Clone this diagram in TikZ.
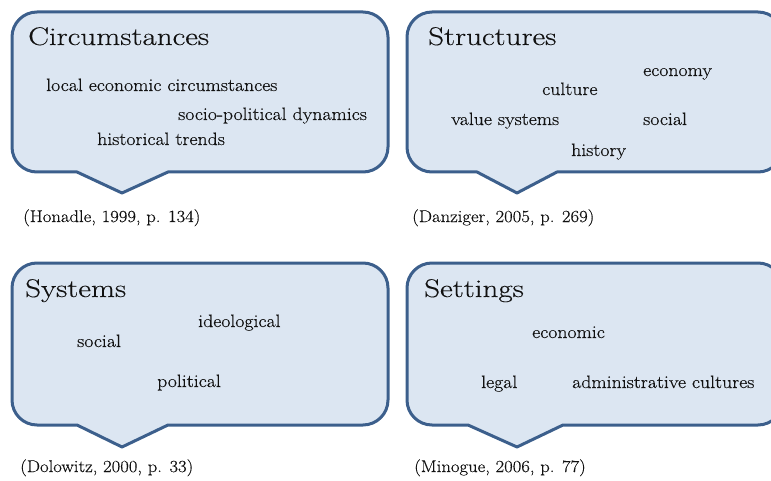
\documentclass[tikz,border=0pt]{standalone}
\usepackage{fontspec}
\setmainfont{Latin Modern Roman}[FakeStretch=1.1,FakeBold=0.35]
\newfontfamily\ttlfont{Latin Modern Roman}[FakeStretch=1.22,FakeBold=0.3]
\usepackage{xcolor}
\definecolor{boxfill}{HTML}{DCE6F2}
\definecolor{boxline}{HTML}{3C5F8C}
\definecolor{txtcol}{HTML}{111111}
\begin{document}
\begin{tikzpicture}[x=1pt,y=1pt,
  bubble/.style={fill=boxfill,draw=boxline,line width=3pt,line join=round},
  ttl/.style={anchor=base west,inner sep=0pt,text=txtcol,font=\ttlfont\fontsize{25.5}{30}\selectfont},
  itm/.style={anchor=base west,inner sep=0pt,text=txtcol,font=\fontsize{18}{22}\selectfont},
  cite/.style={anchor=base west,inner sep=0pt,text=txtcol,font=\fontsize{17}{20}\selectfont}]
\useasboundingbox (0,0) rectangle (771,480);
% box 1
\draw[bubble] (77,308) -- (37,308) arc[start angle=270,end angle=180,radius=25]
  -- (12,443) arc[start angle=180,end angle=90,radius=25]
  -- (363,468) arc[start angle=90,end angle=0,radius=25]
  -- (388,333) arc[start angle=0,end angle=-90,radius=25]
  -- (168,308) -- (122,287) -- cycle;
% box 2
\draw[bubble] (477,308) -- (432,308) arc[start angle=270,end angle=180,radius=25]
  -- (407,443) arc[start angle=180,end angle=90,radius=25]
  -- (758,468) arc[start angle=90,end angle=0,radius=25]
  -- (783,333) arc[start angle=0,end angle=-90,radius=25]
  -- (557,308) -- (517,287) -- cycle;
% box 3
\draw[bubble] (77,55) -- (37,55) arc[start angle=270,end angle=180,radius=25]
  -- (12,192) arc[start angle=180,end angle=90,radius=25]
  -- (363,217) arc[start angle=90,end angle=0,radius=25]
  -- (388,80) arc[start angle=0,end angle=-90,radius=25]
  -- (168,55) -- (122,33) -- cycle;
% box 4
\draw[bubble] (468,55) -- (432,55) arc[start angle=270,end angle=180,radius=25]
  -- (407,192) arc[start angle=180,end angle=90,radius=25]
  -- (758,217) arc[start angle=90,end angle=0,radius=25]
  -- (783,80) arc[start angle=0,end angle=-90,radius=25]
  -- (563,55) -- (517,33) -- cycle;
% texts box 1
\node[ttl] (t1) at (28,435) {Circumstances};
\node[itm] (a1) at (46,389) {local economic circumstances};
\node[itm] (a2) at (178,360) {socio-political dynamics};
\node[itm] (a3) at (97,335) {historical trends};
\node[cite] (c1) at (23,258) {(Honadle, 1999, p. 134)};
% texts box 2
\node[ttl] (t2) at (428,435) {Structures};
\node[itm] (b1) at (643,404) {economy};
\node[itm] (b2) at (542,385) {culture};
\node[itm] (b3) at (451,355) {value systems};
\node[itm] (b4) at (643,355) {social};
\node[itm] (b5) at (571,324) {history};
\node[cite] (c2) at (412,258) {(Danziger, 2005, p. 269)};
% texts box 3
\node[ttl] (t3) at (25,183) {Systems};
\node[itm] (d1) at (198,153) {ideological};
\node[itm] (d2) at (77,133) {social};
\node[itm] (d3) at (157,93) {political};
\node[cite] (c3) at (20,8) {(Dolowitz, 2000, p. 33)};
% texts box 4
\node[ttl] (t4) at (424,183) {Settings};
\node[itm] (e1) at (532,142) {economic};
\node[itm] (e2) at (481,92) {legal};
\node[itm] (e3) at (572,92) {administrative cultures};
\node[cite] (c4) at (414,8) {(Minogue, 2006, p. 77)};
\end{tikzpicture}
\end{document}
